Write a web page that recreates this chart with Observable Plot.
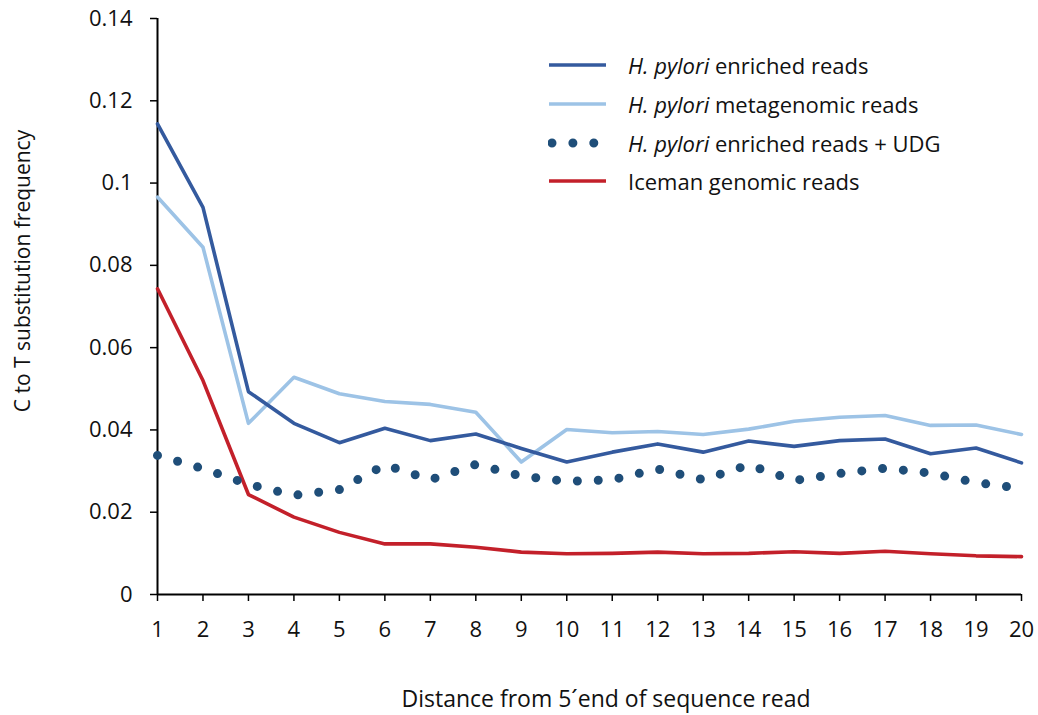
<!DOCTYPE html>
<html>
<head>
<meta charset="utf-8">
<script src="https://cdn.jsdelivr.net/npm/d3@7"></script>
<script src="https://cdn.jsdelivr.net/npm/@observablehq/plot@0.6"></script>
<style>
  html, body { margin: 0; padding: 0; background: #fff; }
  #wrap { position: relative; width: 1038px; height: 715px; font-family: "Open Sans", Lato, sans-serif; color: #111; }
  #legend { position: absolute; left: 548px; top: 46px; font-size: 22px; }
  #legend .row { display: flex; align-items: center; height: 38.7px; }
  #legend svg { margin-right: 20px; }
  #ylabel { position: absolute; left: 22px; top: 271px; transform: translate(-50%, -50%) rotate(-90deg); white-space: nowrap; font-size: 21px; }
  #xlabel { position: absolute; left: 606px; top: 698px; transform: translate(-50%, -50%); white-space: nowrap; font-size: 23px; }
</style>
</head>
<body>
<div id="wrap"><div id="chart"></div><div id="legend"></div><div id="ylabel"></div><div id="xlabel"></div></div>
<script>
const positions = d3.range(1, 21);
const enriched = [0.1144, 0.0941, 0.0493, 0.0416, 0.0369, 0.0404, 0.0374, 0.0390, 0.0355, 0.0322,
                  0.0346, 0.0366, 0.0346, 0.0373, 0.0360, 0.0374, 0.0378, 0.0342, 0.0356, 0.0320];
const metagenomic = [0.0966, 0.0844, 0.0416, 0.0528, 0.0488, 0.0469, 0.0462, 0.0443, 0.0322, 0.0401,
                     0.0393, 0.0396, 0.0389, 0.0402, 0.0421, 0.0431, 0.0435, 0.0411, 0.0412, 0.0389];
const enrichedUDG = [0.0338, 0.0306, 0.0268, 0.0241, 0.0255, 0.0315, 0.0279, 0.0316, 0.0288, 0.0275,
                     0.0279, 0.0305, 0.0279, 0.0315, 0.0277, 0.0294, 0.0307, 0.0295, 0.0272, 0.0258];
const iceman = [0.0743, 0.0520, 0.0243, 0.0188, 0.0151, 0.0123, 0.0123, 0.0115, 0.0103, 0.0099,
                0.0100, 0.0103, 0.0099, 0.0100, 0.0104, 0.0100, 0.0105, 0.0099, 0.0094, 0.0092];
const yTicks = [0, 0.02, 0.04, 0.06, 0.08, 0.1, 0.12, 0.14];
const yTickLabels = ["0", "0.02", "0.04", "0.06", "0.08", "0.1", "0.12", "0.14"];
const yLabel = "C to T substitution frequency";
const xLabel = "Distance from 5´end of sequence read";

const seriesNames = ["H. pylori enriched reads", "H. pylori metagenomic reads", "H. pylori enriched reads + UDG", "Iceman genomic reads"];
const colors = ["#345a9e", "#9dc3e6", "#1f4e79", "#c3202a"];

const toRows = (vals) => positions.map((p, i) => ({x: p, y: vals[i]}));

const chart = Plot.plot({
  width: 1038,
  height: 715,
  marginLeft: 157,
  marginRight: 17,
  marginTop: 18,
  marginBottom: 121,
  style: {fontFamily: "'Open Sans', Lato, sans-serif", fontSize: "22px", color: "#111", background: "#fff"},
  x: {type: "linear", domain: [1, 20]},
  y: {domain: [0, 0.14]},
  marks: [
    Plot.axisY({ticks: yTicks, tickFormat: (d) => yTickLabels[yTicks.indexOf(d)], tickSize: 7, tickPadding: 18,
      label: null, stroke: "#000", strokeWidth: 1.5}),
    Plot.axisX({ticks: positions, tickFormat: d => String(d), tickSize: 7, tickPadding: 20,
      label: null, stroke: "#000", strokeWidth: 1.5}),
    Plot.ruleX([1], {stroke: "#000", strokeWidth: 2}),
    Plot.ruleY([0], {stroke: "#000", strokeWidth: 2}),
    Plot.line(toRows(iceman), {x: "x", y: "y", stroke: colors[3], strokeWidth: 3.6}),
    Plot.line(toRows(enrichedUDG), {x: "x", y: "y", stroke: colors[2], strokeWidth: 9, strokeDasharray: "0 20.9", strokeLinecap: "round"}),
    Plot.line(toRows(metagenomic), {x: "x", y: "y", stroke: colors[1], strokeWidth: 3.6}),
    Plot.line(toRows(enriched), {x: "x", y: "y", stroke: colors[0], strokeWidth: 3.6})
  ]
});
document.getElementById("chart").appendChild(chart);
document.getElementById("ylabel").textContent = yLabel;
document.getElementById("xlabel").textContent = xLabel;

// legend
const legend = d3.select("#legend");
seriesNames.forEach((name, i) => {
  const row = legend.append("div").attr("class", "row");
  const s = row.append("svg").attr("width", 60).attr("height", 12);
  if (i === 2) {
    s.append("line").attr("x1", 4).attr("x2", 60).attr("y1", 6).attr("y2", 6)
      .attr("stroke", colors[i]).attr("stroke-width", 9).attr("stroke-linecap", "round").attr("stroke-dasharray", "0 20.9");
  } else {
    s.append("line").attr("x1", 1).attr("x2", 58).attr("y1", 6).attr("y2", 6)
      .attr("stroke", colors[i]).attr("stroke-width", 3.6);
  }
  const t = row.append("span");
  if (name.startsWith("H. pylori")) {
    t.append("i").text("H. pylori");
    t.append("span").text(name.slice(9));
  } else {
    t.text(name);
  }
});
</script>
</body>
</html>
